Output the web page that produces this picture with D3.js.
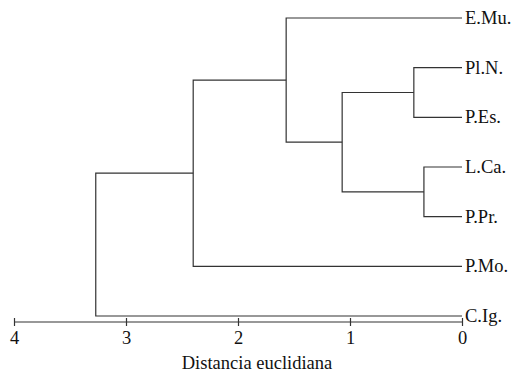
<!DOCTYPE html>
<html>
<head>
<meta charset="utf-8">
<script src="https://cdn.jsdelivr.net/npm/d3@7"></script>
<style>
  html, body { margin: 0; padding: 0; background: #fff; }
  text { font-family: "Liberation Serif", "Times New Roman", serif; fill: #111; }
</style>
</head>
<body>
<svg id="chart" width="517" height="378"></svg>
<script>
// ---- data ----
const leaves = ["E.Mu.", "Pl.N.", "P.Es.", "L.Ca.", "P.Pr.", "P.Mo.", "C.Ig."];
// merges: [childA, childB, distance]; children are leaf names or merge ids "m0".."m5"
const mergeA = ["Pl.N.", "L.Ca.", "m0", "E.Mu.", "m3", "m4"];
const mergeB = ["P.Es.", "P.Pr.", "m1", "m2", "P.Mo.", "C.Ig."];
const mergeHeight = [0.43, 0.34, 1.07, 1.57, 2.40, 3.27];
const tickValues = [4, 3, 2, 1, 0];
const axisTitle = "Distancia euclidiana";

// ---- scales ----
const svg = d3.select("#chart");
const x = d3.scaleLinear().domain([4, 0]).range([14, 462]);
const y = d3.scalePoint().domain(leaves).range([18, 316]);

const pos = {};
leaves.forEach(l => pos[l] = { x: x(0), y: y(l) });
mergeA.forEach((a, i) => {
  const b = mergeB[i];
  pos["m" + i] = { x: x(mergeHeight[i]), y: (pos[a].y + pos[b].y) / 2 };
});

const g = svg.append("g");
const stroke = "#333";
mergeA.forEach((a, i) => {
  const b = mergeB[i];
  const p = pos["m" + i];
  const pa = pos[a], pb = pos[b];
  const path = d3.path();
  path.moveTo(pa.x, pa.y);
  path.lineTo(p.x, pa.y);
  path.lineTo(p.x, pb.y);
  path.lineTo(pb.x, pb.y);
  g.append("path").attr("d", path.toString())
    .attr("fill", "none").attr("stroke", stroke).attr("stroke-width", 1.2);
});

const fs = 18.5;
// leaf labels
g.selectAll("text.leaf").data(leaves).enter().append("text")
  .attr("class", "leaf")
  .attr("x", x(0) + 3)
  .attr("y", d => y(d))
  .attr("dy", "0.33em")
  .attr("font-size", fs)
  .text(d => d);

// axis
const axisY = 322;
const axis = d3.axisBottom(x).tickValues(tickValues).tickFormat(d3.format("d"))
  .tickSize(4).tickPadding(5);
const ag = svg.append("g").attr("transform", `translate(0,${axisY})`).call(axis);
ag.select(".domain").attr("d", `M${x(4)},0H${x(0)}`).attr("stroke", stroke).attr("stroke-width", 1.2);
ag.selectAll(".tick line").attr("y1", -4).attr("y2", 4).attr("stroke", stroke).attr("stroke-width", 1.2);
ag.selectAll(".tick text").attr("font-size", fs)
  .attr("font-family", "Liberation Serif, serif").attr("fill", "#111");

svg.append("text")
  .attr("x", 257)
  .attr("y", 369)
  .attr("text-anchor", "middle")
  .attr("font-size", fs)
  .text(axisTitle);
</script>
</body>
</html>
